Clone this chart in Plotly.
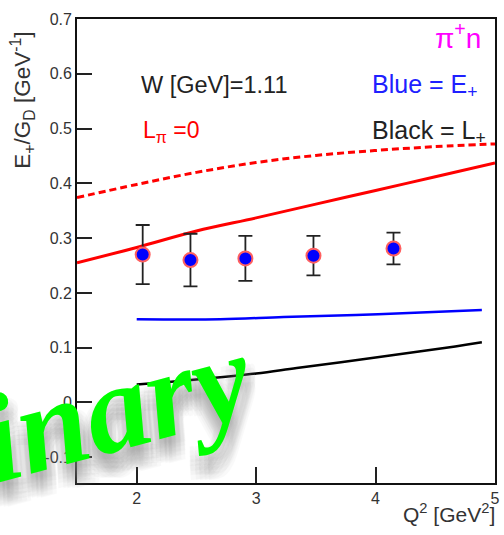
import plotly.graph_objects as go

# Measured multipole ratio E+/G_D for pi+ n at W = 1.11 GeV
q2 = [2.05, 2.45, 2.91, 3.48, 4.15]
ratio = [0.270, 0.260, 0.263, 0.268, 0.281]
ratio_err = [0.054, 0.048, 0.041, 0.036, 0.029]

# Model curves, L_pi = 0 (red)
red_q2 = [1.5, 2.0, 2.5, 3.0, 3.5, 4.0, 4.5, 5.0]
red_solid = [0.255, 0.283, 0.313, 0.337, 0.362, 0.387, 0.412, 0.437]
red_dashed = [0.374, 0.398, 0.420, 0.438, 0.451, 0.460, 0.467, 0.472]

# Model curves for E+ (blue) and L+ (black)
blue_q2 = [2.0, 2.7, 3.23, 4.02, 4.89]
blue_e = [0.152, 0.152, 0.156, 0.161, 0.169]
black_q2 = [2.0, 2.5, 3.0, 3.34, 4.0, 4.5, 4.89]
black_l = [0.033, 0.042, 0.053, 0.063, 0.082, 0.097, 0.110]

x_ticks = [2, 3, 4, 5]
y_ticks = [-0.1, 0.0, 0.1, 0.2, 0.3, 0.4, 0.5, 0.6, 0.7]
y_ticktext = ["-0.1", "0", "0.1", "0.2", "0.3", "0.4", "0.5", "0.6", "0.7"]

fig = go.Figure()

fig.add_trace(go.Scatter(x=red_q2, y=red_dashed, mode="lines",
                         line=dict(color="#ff0000", width=3, dash="7px,4px"),
                         line_shape="spline"))
fig.add_trace(go.Scatter(x=red_q2, y=red_solid, mode="lines",
                         line=dict(color="#ff0000", width=3),
                         line_shape="spline"))
fig.add_trace(go.Scatter(x=blue_q2, y=blue_e, mode="lines",
                         line=dict(color="#0000ff", width=2.5),
                         line_shape="spline"))
fig.add_trace(go.Scatter(x=black_q2, y=black_l, mode="lines",
                         line=dict(color="#000000", width=2.5),
                         line_shape="spline"))
fig.add_trace(go.Scatter(
    x=q2, y=ratio, mode="markers",
    marker=dict(size=14, color="#0000ff", line=dict(color="#ff6060", width=2)),
    error_y=dict(type="data", array=ratio_err, color="#222222",
                 thickness=1.8, width=7),
))

font_main = "Liberation Sans, Arial, sans-serif"

annotations = []

# Watermark: soft grey shadow built from faint offset copies, then the green text
wm_size = 126
wm = dict(text="Preliminary", xref="paper", yref="paper",
          x=(-55 - 77) / 423, y=(483 - 452) / 464,
          xanchor="center", yanchor="middle",
          showarrow=False, textangle=-15)
for dx in (-9, -4.5, 0, 4.5, 9):
    for dy in (-9, -4.5, 0, 4.5, 9):
        annotations.append(dict(wm, xshift=1 + dx, yshift=-15 + dy,
                                font=dict(family="Liberation Serif", size=wm_size,
                                          style="italic", weight="bold",
                                          color="#8c8c8c"),
                                opacity=0.042))
annotations.append(dict(wm, font=dict(family="Liberation Serif", size=wm_size,
                                      style="italic", weight="bold",
                                      color="#00ff00")))

def label(text, px, py, color, size=22, anchor="left"):
    annotations.append(dict(text=text, xref="paper", yref="paper",
                            x=(px - 77) / 423, y=(483 - py) / 464,
                            xanchor=anchor, yanchor="middle", showarrow=False,
                            font=dict(family=font_main, size=size, color=color)))

label("W [GeV]=1.11", 140, 85, "#222222", size=23.5)
label("L<sub>π</sub> =0", 142, 131, "#ff0000", size=23)
label("Blue = E<sub>+</sub>", 374, 86, "#2020ff", size=25)
label("Black = L<sub>+</sub>", 374, 132, "#222222", size=25)
label("π<sup>+</sup>n", 488, 36, "#ff00ff", size=28, anchor="right")

# Axis titles
annotations.append(dict(text="E<sub>+</sub>/G<sub>D</sub> [GeV<sup>-1</sup>]",
                        xref="paper", yref="paper",
                        x=(22 - 77) / 423, y=(483 - 100) / 464,
                        xanchor="center", yanchor="middle", textangle=-90,
                        showarrow=False,
                        font=dict(family=font_main, size=22.5, color="#333333")))
annotations.append(dict(text="Q<sup>2</sup> [GeV<sup>2</sup>]",
                        xref="paper", yref="paper",
                        x=(502 - 77) / 423, y=(483 - 513) / 464,
                        xanchor="right", yanchor="middle", showarrow=False,
                        font=dict(family=font_main, size=21, color="#333333")))

fig.update_layout(
    width=504, height=535,
    margin=dict(l=77, r=4, t=19, b=52),
    paper_bgcolor="white", plot_bgcolor="white",
    showlegend=False,
    annotations=annotations,
    xaxis=dict(range=[1.5, 5.0], tickvals=x_ticks, ticks="inside", ticklen=16,
               tickwidth=1.5, tickcolor="#222222", showline=True,
               linecolor="#111111", linewidth=1.8, mirror=True,
               showgrid=False, zeroline=False,
               tickfont=dict(family=font_main, size=16, color="#333333")),
    yaxis=dict(range=[-0.147, 0.7], tickvals=y_ticks, ticktext=y_ticktext,
               ticks="inside", ticklen=15, tickwidth=1.5, tickcolor="#222222",
               showline=True, linecolor="#111111", linewidth=1.8, mirror=True,
               showgrid=False, zeroline=False,
               tickfont=dict(family=font_main, size=16, color="#333333")),
)

fig.write_html("out.html")
